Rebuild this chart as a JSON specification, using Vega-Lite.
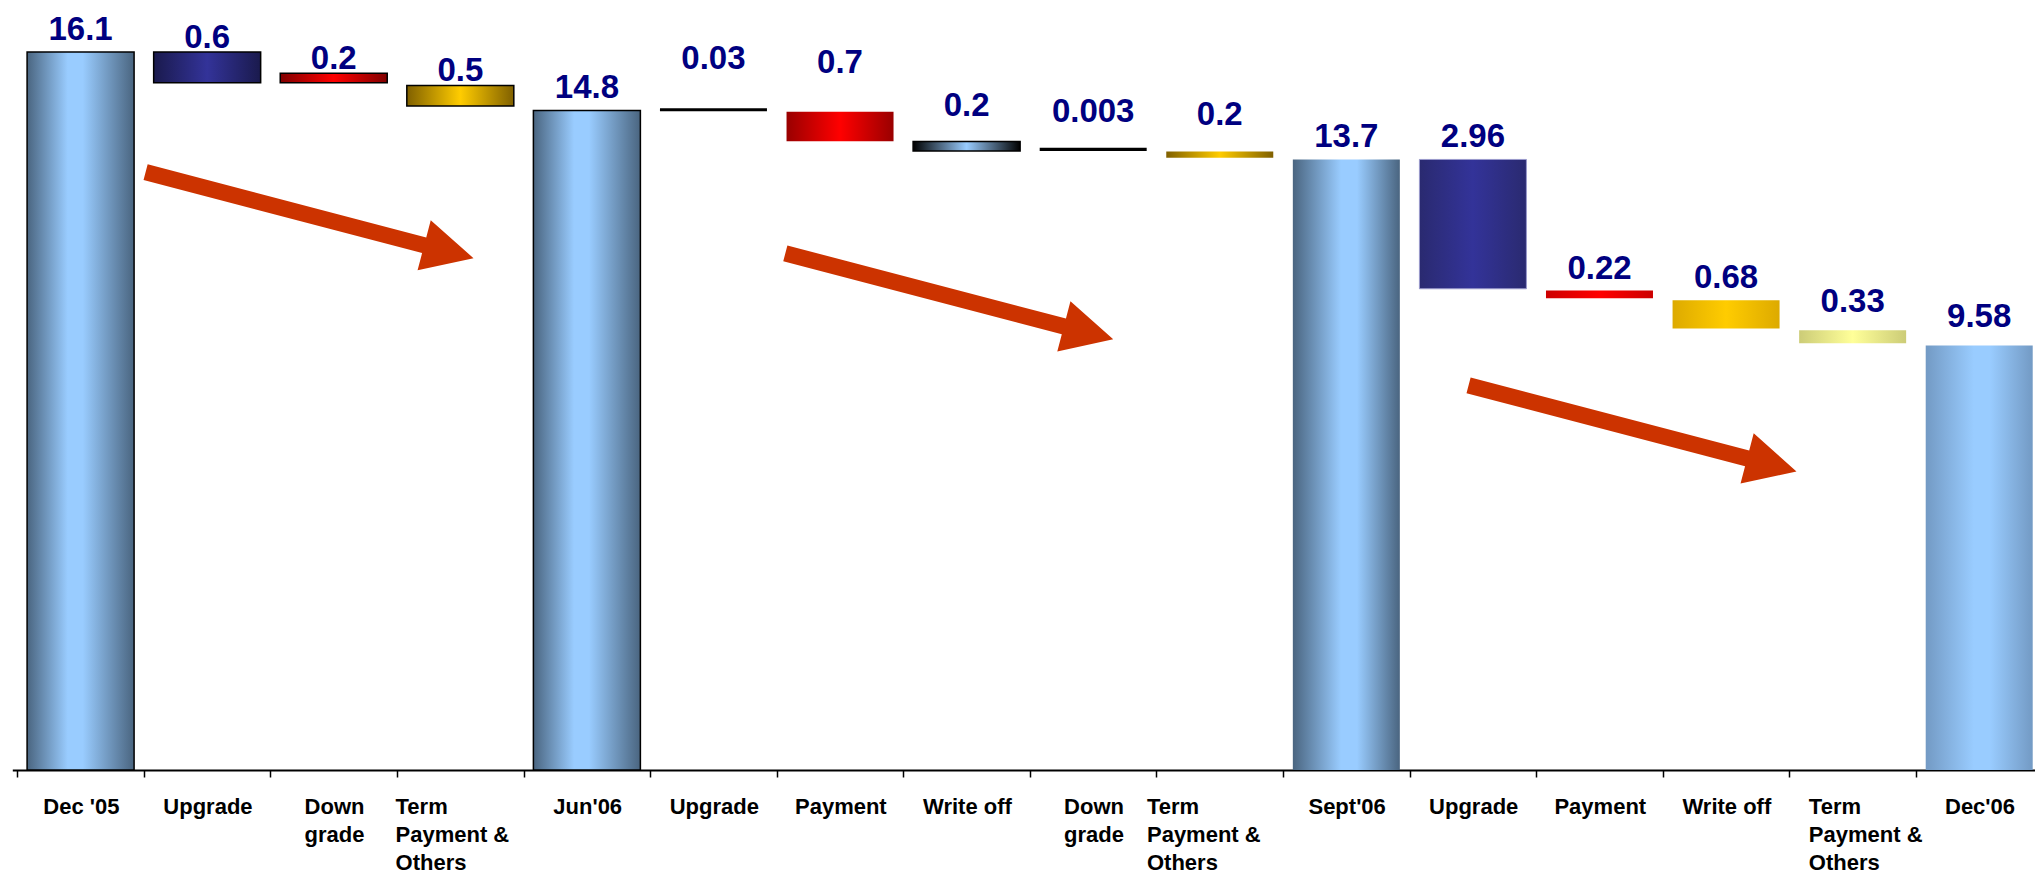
{
  "$schema": "https://vega.github.io/schema/vega-lite/v6.json",
  "width": 2035,
  "height": 770,
  "autosize": {"type": "none"},
  "padding": {"left": 0, "top": 0, "right": 0, "bottom": 109},
  "background": "white",
  "config": {"view": {"stroke": null}},
  "layer": [
    {
      "data": {
        "values": [
          {"n": 1, "label": "Dec '05", "lo": 0, "hi": 16.1, "value": 16.1},
          {"n": 2, "label": "Upgrade", "lo": 15.41, "hi": 16.1, "value": 0.6},
          {"n": 3, "label": "Down grade", "lo": 15.41, "hi": 15.62, "value": 0.2},
          {"n": 4, "label": "Term Payment & Others", "lo": 14.89, "hi": 15.35, "value": 0.5},
          {"n": 5, "label": "Jun'06", "lo": 0, "hi": 14.79, "value": 14.8},
          {"n": 6, "label": "Upgrade", "lo": 14.77, "hi": 14.84, "value": 0.03},
          {"n": 7, "label": "Payment", "lo": 14.1, "hi": 14.76, "value": 0.7},
          {"n": 8, "label": "Write off", "lo": 13.88, "hi": 14.09, "value": 0.2},
          {"n": 9, "label": "Down grade", "lo": 13.88, "hi": 13.95, "value": 0.003},
          {"n": 10, "label": "Term Payment & Others", "lo": 13.73, "hi": 13.87, "value": 0.2},
          {"n": 11, "label": "Sept'06", "lo": 0, "hi": 13.69, "value": 13.7},
          {"n": 12, "label": "Upgrade", "lo": 10.79, "hi": 13.69, "value": 2.96},
          {"n": 13, "label": "Payment", "lo": 10.58, "hi": 10.75, "value": 0.22},
          {"n": 14, "label": "Write off", "lo": 9.9, "hi": 10.53, "value": 0.68},
          {"n": 15, "label": "Term Payment & Others", "lo": 9.57, "hi": 9.86, "value": 0.33},
          {"n": 16, "label": "Dec'06", "lo": 0, "hi": 9.52, "value": 9.58}
        ]
      },
      "encoding": {
        "x": {
          "field": "n",
          "type": "quantitative",
          "scale": {"domain": [0.5, 16.5], "range": [12.3, 2047.5], "nice": false, "zero": false},
          "axis": {
            "orient": "bottom",
            "title": null,
            "values": [0.5, 1.5, 2.5, 3.5, 4.5, 5.5, 6.5, 7.5, 8.5, 9.5, 10.5, 11.5, 12.5, 13.5, 14.5, 15.5, 16.5],
            "labelExpr": "datum.value > 16 ? '' : split(split('Dec \\'05|Upgrade|Down/grade|Term/Payment &/Others|Jun\\'06|Upgrade|Payment|Write off|Down/grade|Term/Payment &/Others|Sept\\'06|Upgrade|Payment|Write off|Term/Payment &/Others|Dec\\'06', '|')[round(datum.value - 0.5)], '/')",
            "labelAngle": 0,
            "labelFont": "Liberation Sans",
            "labelFontWeight": "bold",
            "labelFontSize": 22,
            "labelColor": "black",
            "labelLineHeight": 28,
            "labelBaseline": "top",
            "labelPadding": 19,
            "labelOverlap": false,
            "labelBound": false,
            "labelFlush": false,
            "labelAlign": {"condition": {"test": "datum.value == 3.5 || datum.value == 9.5 || datum.value == 14.5", "value": "left"}, "value": "center"},
            "labelOffset": {"condition": [{"test": "datum.value == 3.5", "value": -2}, {"test": "datum.value == 9.5", "value": -10}, {"test": "datum.value == 14.5", "value": 19}], "value": 63.6},
            "tickColor": "black",
            "tickWidth": 1.5,
            "tickSize": 7,
            "domainColor": "black",
            "domainWidth": 2,
            "grid": false
          }
        },
        "y": {"field": "lo", "type": "quantitative", "scale": {"domain": [0, 17.265], "nice": false, "zero": true}, "axis": null},
        "y2": {"field": "hi"}
      },
      "layer": [
        {
          "transform": [{"filter": "datum.n == 1 || datum.n == 5"}],
          "mark": {"type": "bar", "width": 107, "stroke": "black", "strokeWidth": 1.5,
            "fill": {"gradient": "linear", "x1": 0, "y1": 0, "x2": 1, "y2": 0, "stops": [{"offset": 0, "color": "#4a6580"}, {"offset": 0.38, "color": "#99ccff"}, {"offset": 0.52, "color": "#99ccff"}, {"offset": 1, "color": "#4a6580"}]}}
        },
        {
          "transform": [{"filter": "datum.n == 11"}],
          "mark": {"type": "bar", "width": 107,
            "fill": {"gradient": "linear", "x1": 0, "y1": 0, "x2": 1, "y2": 0, "stops": [{"offset": 0, "color": "#4a6580"}, {"offset": 0.45, "color": "#99ccff"}, {"offset": 0.6, "color": "#99ccff"}, {"offset": 1, "color": "#4a6580"}]}}
        },
        {
          "transform": [{"filter": "datum.n == 16"}],
          "mark": {"type": "bar", "width": 107,
            "fill": {"gradient": "linear", "x1": 0, "y1": 0, "x2": 1, "y2": 0, "stops": [{"offset": 0, "color": "#739ac4"}, {"offset": 0.45, "color": "#99ccff"}, {"offset": 0.6, "color": "#99ccff"}, {"offset": 1, "color": "#739ac4"}]}}
        },
        {
          "transform": [{"filter": "datum.n == 2"}],
          "mark": {"type": "bar", "width": 107, "stroke": "black", "strokeWidth": 1.5,
            "fill": {"gradient": "linear", "x1": 0, "y1": 0, "x2": 1, "y2": 0, "stops": [{"offset": 0, "color": "#1a1a4d"}, {"offset": 0.5, "color": "#333399"}, {"offset": 1, "color": "#1a1a4d"}]}}
        },
        {
          "transform": [{"filter": "datum.n == 3"}],
          "mark": {"type": "bar", "width": 107, "stroke": "black", "strokeWidth": 1.5,
            "fill": {"gradient": "linear", "x1": 0, "y1": 0, "x2": 1, "y2": 0, "stops": [{"offset": 0, "color": "#800000"}, {"offset": 0.5, "color": "#ff0000"}, {"offset": 1, "color": "#800000"}]}}
        },
        {
          "transform": [{"filter": "datum.n == 4"}],
          "mark": {"type": "bar", "width": 107, "stroke": "black", "strokeWidth": 1.5,
            "fill": {"gradient": "linear", "x1": 0, "y1": 0, "x2": 1, "y2": 0, "stops": [{"offset": 0, "color": "#806000"}, {"offset": 0.5, "color": "#ffcc00"}, {"offset": 1, "color": "#806000"}]}}
        },
        {
          "transform": [{"filter": "datum.n == 6 || datum.n == 9"}],
          "mark": {"type": "bar", "width": 107, "fill": "black"}
        },
        {
          "transform": [{"filter": "datum.n == 7"}],
          "mark": {"type": "bar", "width": 107,
            "fill": {"gradient": "linear", "x1": 0, "y1": 0, "x2": 1, "y2": 0, "stops": [{"offset": 0, "color": "#990000"}, {"offset": 0.5, "color": "#ff0000"}, {"offset": 1, "color": "#990000"}]}}
        },
        {
          "transform": [{"filter": "datum.n == 8"}],
          "mark": {"type": "bar", "width": 107, "stroke": "black", "strokeWidth": 1.5,
            "fill": {"gradient": "linear", "x1": 0, "y1": 0, "x2": 1, "y2": 0, "stops": [{"offset": 0, "color": "#000000"}, {"offset": 0.5, "color": "#99ccff"}, {"offset": 1, "color": "#000000"}]}}
        },
        {
          "transform": [{"filter": "datum.n == 10"}],
          "mark": {"type": "bar", "width": 107,
            "fill": {"gradient": "linear", "x1": 0, "y1": 0, "x2": 1, "y2": 0, "stops": [{"offset": 0, "color": "#806000"}, {"offset": 0.5, "color": "#ffcc00"}, {"offset": 1, "color": "#806000"}]}}
        },
        {
          "transform": [{"filter": "datum.n == 12"}],
          "mark": {"type": "bar", "width": 107, "stroke": "#9999cc", "strokeWidth": 1,
            "fill": {"gradient": "linear", "x1": 0, "y1": 0, "x2": 1, "y2": 0, "stops": [{"offset": 0, "color": "#2a2a70"}, {"offset": 0.5, "color": "#333399"}, {"offset": 1, "color": "#2a2a70"}]}}
        },
        {
          "transform": [{"filter": "datum.n == 13"}],
          "mark": {"type": "bar", "width": 107,
            "fill": {"gradient": "linear", "x1": 0, "y1": 0, "x2": 1, "y2": 0, "stops": [{"offset": 0, "color": "#cc0000"}, {"offset": 0.5, "color": "#ff0000"}, {"offset": 1, "color": "#cc0000"}]}}
        },
        {
          "transform": [{"filter": "datum.n == 14"}],
          "mark": {"type": "bar", "width": 107,
            "fill": {"gradient": "linear", "x1": 0, "y1": 0, "x2": 1, "y2": 0, "stops": [{"offset": 0, "color": "#ddaa00"}, {"offset": 0.5, "color": "#ffcc00"}, {"offset": 1, "color": "#ddaa00"}]}}
        },
        {
          "transform": [{"filter": "datum.n == 15"}],
          "mark": {"type": "bar", "width": 107,
            "fill": {"gradient": "linear", "x1": 0, "y1": 0, "x2": 1, "y2": 0, "stops": [{"offset": 0, "color": "#cccc77"}, {"offset": 0.5, "color": "#ffff99"}, {"offset": 1, "color": "#cccc77"}]}}
        },
        {
          "transform": [{"filter": "datum.n >= 2 && datum.n <= 4"}],
          "mark": {"type": "text", "baseline": "alphabetic", "align": "center", "dy": -4, "font": "Liberation Sans", "fontWeight": "bold", "fontSize": 33, "color": "#000080"},
          "encoding": {"y": {"field": "hi", "type": "quantitative"}, "y2": null, "text": {"field": "value", "type": "nominal"}}
        },
        {
          "transform": [{"filter": "datum.n == 6 || datum.n == 7"}],
          "mark": {"type": "text", "baseline": "alphabetic", "align": "center", "dy": -39, "font": "Liberation Sans", "fontWeight": "bold", "fontSize": 33, "color": "#000080"},
          "encoding": {"y": {"field": "hi", "type": "quantitative"}, "y2": null, "text": {"field": "value", "type": "nominal"}}
        },
        {
          "transform": [{"filter": "datum.n >= 8 && datum.n <= 10"}],
          "mark": {"type": "text", "baseline": "alphabetic", "align": "center", "dy": -26, "font": "Liberation Sans", "fontWeight": "bold", "fontSize": 33, "color": "#000080"},
          "encoding": {"y": {"field": "hi", "type": "quantitative"}, "y2": null, "text": {"field": "value", "type": "nominal"}}
        },
        {
          "transform": [{"filter": "datum.n == 15 || datum.n == 16"}],
          "mark": {"type": "text", "baseline": "alphabetic", "align": "center", "dy": -18, "font": "Liberation Sans", "fontWeight": "bold", "fontSize": 33, "color": "#000080"},
          "encoding": {"y": {"field": "hi", "type": "quantitative"}, "y2": null, "text": {"field": "value", "type": "nominal"}}
        },
        {
          "transform": [{"filter": "datum.n == 1 || datum.n == 5 || (datum.n >= 11 && datum.n <= 14)"}],
          "mark": {"type": "text", "baseline": "alphabetic", "align": "center", "dy": -12, "font": "Liberation Sans", "fontWeight": "bold", "fontSize": 33, "color": "#000080"},
          "encoding": {"y": {"field": "hi", "type": "quantitative"}, "y2": null, "text": {"field": "value", "type": "nominal"}}
        }
      ]
    },
    {
      "data": {
        "values": [
          {"pos": 2.809, "v": 12.44},
          {"pos": 7.863, "v": 10.62},
          {"pos": 13.261, "v": 7.66}
        ]
      },
      "mark": {
        "type": "point",
        "filled": true,
        "fill": "#cc3300",
        "opacity": 1,
        "strokeWidth": 0,
        "size": 114921,
        "angle": 14.7,
        "shape": "M -1 -0.048 L 0.699 -0.048 L 0.699 -0.153 L 1 0 L 0.699 0.153 L 0.699 0.048 L -1 0.048 Z"
      },
      "encoding": {
        "x": {"field": "pos", "type": "quantitative"},
        "y": {"field": "v", "type": "quantitative", "axis": null}
      }
    }
  ]
}
